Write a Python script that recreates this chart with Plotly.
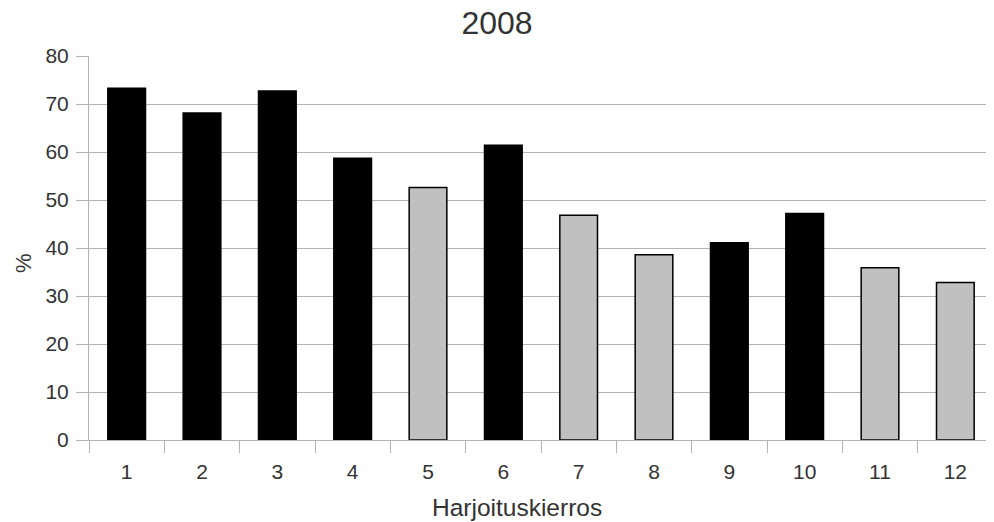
import plotly.graph_objects as go

# Harjoituskierrokset ja tulokset (%)
rounds = ["1", "2", "3", "4", "5", "6", "7", "8", "9", "10", "11", "12"]
percent = [73.3, 68.1, 72.7, 58.7, 52.6, 61.4, 46.8, 38.6, 41.1, 47.2, 35.9, 32.8]
# musta = 1, harmaa = 0
dark = [1, 1, 1, 1, 0, 1, 0, 0, 1, 1, 0, 0]

colors = ["#000000" if d else "#c0c0c0" for d in dark]

fig = go.Figure(go.Bar(
    x=rounds, y=percent,
    marker=dict(color=colors, line=dict(color="#000000", width=1.5)),
    width=0.5,
))

grid = "#b3b3b3"
txt = "#333333"
fig.update_layout(
    width=994, height=522,
    margin=dict(l=81, r=9, t=48, b=90),
    paper_bgcolor="white", plot_bgcolor="white",
    font=dict(family="Liberation Sans, Arial, sans-serif", size=21, color=txt),
    title=dict(text="2008", x=0.492, xanchor="center", y=0.972, yanchor="middle",
               font=dict(size=32, color=txt)),
    showlegend=False,
)
# akselien otsikot
fig.add_annotation(text="Harjoituskierros", xref="paper", yref="paper",
                   x=0.4735, y=-0.177, xanchor="center", yanchor="middle",
                   showarrow=False, font=dict(size=24.5, color=txt))
fig.add_annotation(text="%", xref="paper", yref="paper",
                   x=-0.0719, y=0.461, xanchor="center", yanchor="middle",
                   textangle=-90, showarrow=False, font=dict(size=22, color=txt))

fig.update_xaxes(
    automargin=False,
    tickson="boundaries", ticks="outside", ticklen=12, tickcolor=grid,
    ticklabelstandoff=13,
    showline=True, linecolor=grid, linewidth=1, mirror=False,
    showgrid=False,
)
fig.update_yaxes(
    automargin=False,
    range=[0, 80], dtick=10,
    ticks="outside", ticklen=12, tickcolor=grid,
    ticklabelstandoff=3,
    showgrid=True, gridcolor=grid, gridwidth=1,
    showline=True, linecolor=grid, linewidth=1, mirror=True,
    zeroline=False,
)

fig.write_html("out.html")
